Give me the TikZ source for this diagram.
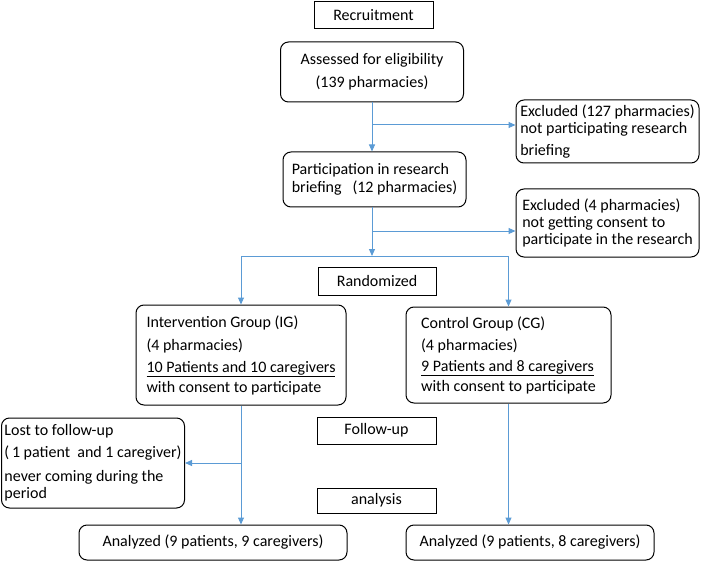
\documentclass[tikz,border=0pt]{standalone}
\usepackage{fontspec}
\setmainfont{Carlito}
\usetikzlibrary{arrows.meta}
\usetikzlibrary{positioning}
\definecolor{flowblue}{RGB}{91,155,213}

\begin{document}
\begin{tikzpicture}[x=1pt, y=-1pt,
        every node/.style={font=\fontsize{16}{17}\selectfont, inner sep=0pt},
        stagebox/.style={draw, line width=1pt},
        flowbox/.style={draw, line width=1pt, rounded corners=8pt},
        flow/.style={flowblue, line width=1pt, -{Triangle[width=6pt, length=7pt]}},
        flowline/.style={flowblue, line width=1pt}]
        \useasboundingbox (0,0) rectangle (711,561);

        % Top: recruitment and eligibility
        \node[stagebox, minimum width=119, minimum height=27] (recruit) at (373.5,15.5) {Recruitment};
        \node[flowbox, minimum width=183, minimum height=60, align=center] (assess) at (372,72)
            {Assessed for eligibility\\[6pt](139 pharmacies)};

        % Exclusions on the right
        \node[flowbox, minimum width=183, minimum height=63, align=left] (excl1) at (607.5,131.5)
            {Excluded (127 pharmacies)\\not participating research\\[5pt]briefing};
        \node[flowbox, minimum width=183, minimum height=55, align=left] (partic) at (374.5,179.5)
            {Participation in research\\[1pt]briefing\ \ \ (12 pharmacies)};
        \node[flowbox, minimum width=183, minimum height=68, align=left] (excl2) at (607.5,223)
            {Excluded (4 pharmacies)\\not getting consent to\\participate in the research};

        % Randomization
        \node[stagebox, minimum width=118, minimum height=28] (random) at (377,281) {Randomized};
        \node[flowbox, minimum width=210, minimum height=100, align=left] (ig) at (241,355)
            {Intervention Group (IG)\\[6pt](4 pharmacies)\\[5pt]\underline{10 Patients and 10 caregivers}\\[3pt]with consent to participate};
        \node[flowbox, minimum width=205, minimum height=96, align=left] (cg) at (508.5,355)
            {Control Group (CG)\\[5pt](4 pharmacies)\\[4pt]\underline{9 Patients and 8 caregivers}\\[3pt]with consent to participate};

        % Follow-up and analysis
        \node[stagebox, minimum width=119, minimum height=27] (follow) at (376.5,430.5) {Follow-up};
        \node[stagebox, minimum width=119, minimum height=25] (analysis) at (376.5,500.5) {analysis};
        \node[flowbox, minimum width=183, minimum height=90, align=left] (lost) at (93,463)
            {Lost to follow-up\\[5pt](\,1 patient\ \ and 1 caregiver)\\[7pt]never coming during the\\period};
        \node[flowbox, minimum width=268, minimum height=35] (anal1) at (213,542.5) {Analyzed (9 patients, 9 caregivers)};
        \node[flowbox, minimum width=248, minimum height=35] (anal2) at (530,542.5) {Analyzed (9 patients, 8 caregivers)};

        % Connectors
        \coordinate (b1) at (372,125);
        \coordinate (b2) at (372,231);
        \coordinate (split) at (372,256);
        \draw[flow] (assess.south) -- (assess.south |- partic.north);
        \draw[flow] (b1) -- (b1 -| excl1.west);
        \draw[flow] (partic.south -| split) -- (split);
        \draw[flow] (b2) -- (b2 -| excl2.west);
        \draw[flowline] (split -| ig.north) -- (split -| cg.north);
        \draw[flow] (split -| ig.north) -- (ig.north);
        \draw[flow] (split -| cg.north) -- (cg.north);
        \draw[flow] (ig.south) -- (ig.south |- anal1.north);
        \draw[flow] (ig.south |- lost.east) -- (lost.east);
        \draw[flow] (cg.south) -- (cg.south |- anal2.north);
\end{tikzpicture}
\end{document}
